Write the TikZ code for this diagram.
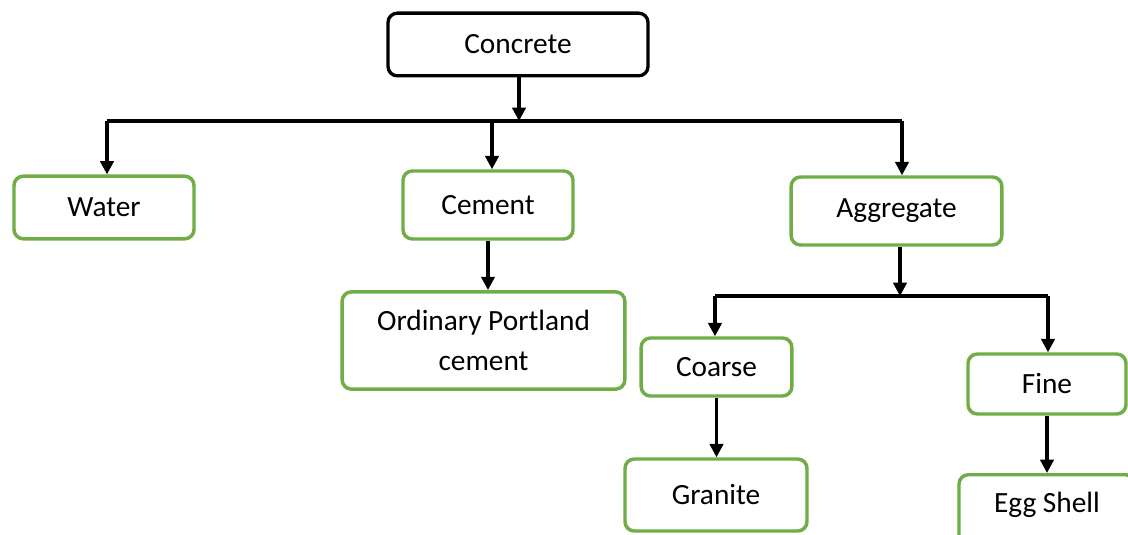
\documentclass[tikz,border=0pt]{standalone}
\usepackage{fontspec}
\setmainfont{Carlito}
\usetikzlibrary{arrows.meta}

\begin{document}
\begin{tikzpicture}[x=0.75pt,y=-0.75pt]
  \tikzstyle{root}=[rectangle,rounded corners=7pt,draw=black,line width=2.5pt,fill=white,font=\fontsize{22pt}{27pt}\selectfont]
  \tikzstyle{leaf}=[rectangle,rounded corners=7pt,draw=leafgreen,line width=2.6pt,fill=white,font=\fontsize{22pt}{27pt}\selectfont]
  \tikzstyle{link}=[line width=2.4pt,-{Triangle[length=10pt,width=10pt]}]
  \tikzstyle{bar}=[line width=2.4pt]
  \definecolor{leafgreen}{RGB}{112,173,71}

  \clip (0,0) rectangle (1128,535);

  \node[root, minimum width=195pt, minimum height=47pt] (concrete) at (518,44.5) {Concrete};

  \node[leaf, minimum width=135pt, minimum height=47pt] (water) at (104,207.5) {Water};
  \node[leaf, minimum width=127.5pt, minimum height=51pt] (cement) at (488,205) {Cement};
  \node[leaf, minimum width=158pt, minimum height=51pt] (aggregate) at (896.5,211) {Aggregate};

  \node[leaf, minimum width=212pt, minimum height=73pt, align=center] (opc) at (483.5,340.5) {Ordinary Portland\\[3pt]cement};

  \node[leaf, minimum width=113pt, minimum height=43.5pt] (coarse) at (716.5,367) {Coarse};
  \node[leaf, minimum width=118.5pt, minimum height=45pt] (fine) at (1047,384) {Fine};
  \node[leaf, minimum width=136.5pt, minimum height=54pt] (granite) at (716,495) {Granite};
  \node[leaf, minimum width=132pt, text height=20pt, text depth=30pt, inner ysep=8pt, anchor=north] (egg) at (1047,473) {Egg Shell};

  % first level
  \coordinate (j1) at (519,121);
  \coordinate (w1) at (107,121);
  \coordinate (c1) at (492,121);
  \coordinate (a1) at (902,121);
  \draw[bar] (w1) -- (a1);
  \draw[link] (concrete.south -| j1) -- (j1);
  \draw[link] (w1) -- (w1 |- water.north);
  \draw[link] (c1) -- (c1 |- cement.north);
  \draw[link] (a1) -- (a1 |- aggregate.north);

  \draw[link] (cement.south) -- (cement.south |- opc.north);

  % aggregate split
  \coordinate (j2) at (900,296);
  \coordinate (k1) at (715,296);
  \coordinate (f1) at (1048,296);
  \draw[bar] (k1) -- (f1);
  \draw[link] (aggregate.south -| j2) -- (j2);
  \draw[link] (k1) -- (k1 |- coarse.north);
  \draw[link] (f1) -- (f1 |- fine.north);

  \draw[link] (coarse.south) -- (coarse.south |- granite.north);
  \draw[link] (fine.south) -- (fine.south |- egg.north);

\end{tikzpicture}
\end{document}
